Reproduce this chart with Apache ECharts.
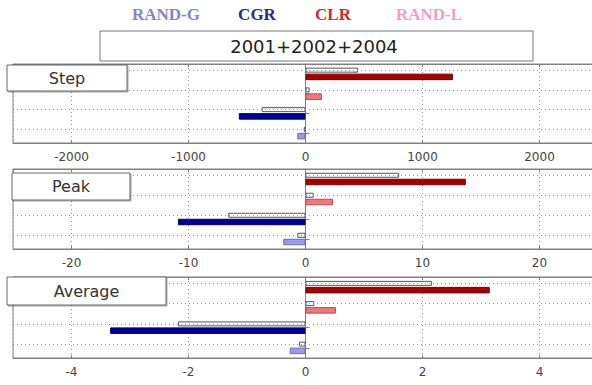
<!DOCTYPE html>
<html>
<head>
<meta charset="utf-8">
<script src="https://cdn.jsdelivr.net/npm/echarts@6/dist/echarts.min.js"></script>
<style>
  html, body { margin: 0; padding: 0; background: #fff; overflow: hidden; }
  /* a few pixels wider than the window: the right frame of the plots is cut off */
  #chart { width: 600px; height: 385px; }
</style>
</head>
<body>
<div id="chart"></div>
<script>
// rows top to bottom in every panel
const categories = ['CLR', 'RAND-L', 'CGR', 'RAND-G'];
const panelNames = ['Step', 'Peak', 'Average'];
const title = '2001+2002+2004';

// outlined (white) bars and coloured bars, in category order
const stepWhite = [450, 35, -375, -15];
const stepColor = [1260, 140, -570, -70];
const peakWhite = [8.0, 0.7, -6.6, -0.7];
const peakColor = [13.7, 2.35, -10.9, -1.9];
const avgWhite = [2.16, 0.15, -2.18, -0.11];
const avgColor = [3.15, 0.52, -3.34, -0.27];
const axisLimit = [2500, 25, 5];

const legendNames = ['RAND-G', 'CGR', 'CLR', 'RAND-L'];
const legendColors = { 'RAND-G': '#8585cc', 'CGR': '#2b2b88', 'CLR': '#d42a2a', 'RAND-L': '#f0a0c0' };
const barFill = { 'CLR': '#a80000', 'RAND-L': '#f07878', 'CGR': '#000099', 'RAND-G': '#9a9aee' };
const barEdge = { 'CLR': '#6e0000', 'RAND-L': '#c04848', 'CGR': '#00005e', 'RAND-G': '#6a6ac0' };

const whiteData = [stepWhite, peakWhite, avgWhite];
const colorData = [stepColor, peakColor, avgColor];

// panel frames (pixels)
const panelTop = [64, 169, 277];
const panelHeight = [79, 80, 81];
const labelBoxes = [
  { x: 7, y: 65, w: 120, h: 26 },
  { x: 12, y: 173, w: 118, h: 27 },
  { x: 7, y: 277, w: 159, h: 28 }
];

const chart = echarts.init(document.getElementById('chart'), null, { renderer: 'svg' });

const grid = [], xAxis = [], yAxis = [], series = [];
const frameColor = '#808080';

panelNames.forEach((name, i) => {
  grid.push({
    left: 13, right: 2, top: panelTop[i], height: panelHeight[i],
    outerBoundsMode: 'none',
    show: true, borderColor: frameColor, borderWidth: 1
  });
  // bottom axis with labels
  xAxis.push({
    type: 'value', gridIndex: i, min: -axisLimit[i], max: axisLimit[i], splitNumber: 5,
    position: 'bottom',
    axisLine: { show: true, lineStyle: { color: frameColor } },
    axisTick: { show: true, inside: true, length: 3, lineStyle: { color: frameColor } },
    axisLabel: {
      showMinLabel: false, showMaxLabel: false, margin: 8,
      color: '#444', fontSize: 12, fontFamily: 'DejaVu Sans',
      formatter: v => String(v)
    },
    splitLine: { show: true, lineStyle: { color: '#999', type: [1, 3], width: 1 } }
  });
  // top border ticks
  xAxis.push({
    type: 'value', gridIndex: i, min: -axisLimit[i], max: axisLimit[i], splitNumber: 5,
    position: 'top',
    axisLine: { show: true, lineStyle: { color: frameColor } },
    axisTick: { show: true, inside: true, length: 3, lineStyle: { color: frameColor } },
    axisLabel: { show: false },
    splitLine: { show: false }
  });
  yAxis.push({
    type: 'category', gridIndex: i, data: categories, inverse: true,
    axisLine: { show: true, lineStyle: { color: frameColor } },
    axisTick: { show: true, inside: true, alignWithLabel: true, length: 4, lineStyle: { color: frameColor } },
    axisLabel: { show: false },
    splitLine: { show: false }
  });

  series.push({
    type: 'bar', name: name + ' white', xAxisIndex: i * 2, yAxisIndex: i,
    barWidth: 5, barGap: '20%',
    itemStyle: { color: '#fff', borderColor: '#555', borderWidth: 1 },
    data: whiteData[i],
    markLine: {
      silent: true, symbol: 'none', label: { show: false },
      lineStyle: { color: '#999', type: [1, 3], width: 1 },
      data: categories.map(c => ({ yAxis: c }))
    },
    animation: false
  });
  series.push({
    type: 'bar', name: name, xAxisIndex: i * 2, yAxisIndex: i,
    barWidth: 6.5,
    data: colorData[i].map((v, k) => ({
      value: v,
      itemStyle: { color: barFill[categories[k]], borderColor: barEdge[categories[k]], borderWidth: 1 }
    })),
    animation: false
  });
});

const legendX = { 'RAND-G': 166, 'CGR': 257, 'CLR': 333, 'RAND-L': 429 };
const graphic = legendNames.map(n => ({
  type: 'text', x: legendX[n], y: 14,
  style: {
    text: n, fill: legendColors[n], font: 'bold 17px "Liberation Serif", serif',
    textAlign: 'center', textVerticalAlign: 'middle'
  }
}));

graphic.push({
  type: 'rect', shape: { x: 100, y: 31, width: 433, height: 30 },
  style: { fill: '#fff', stroke: '#777', lineWidth: 1 }, z: 10
});
graphic.push({
  type: 'text', x: 314, y: 46, z: 11,
  style: { text: title, fill: '#222', font: '18px "DejaVu Sans", sans-serif', textAlign: 'center', textVerticalAlign: 'middle' }
});

panelNames.forEach((name, i) => {
  const b = labelBoxes[i];
  graphic.push({
    type: 'rect', shape: { x: b.x, y: b.y, width: b.w, height: b.h }, z: 10,
    style: { fill: '#fff', stroke: '#666', lineWidth: 1, shadowColor: 'rgba(0,0,0,0.35)', shadowOffsetX: 1, shadowOffsetY: 1, shadowBlur: 1 }
  });
  graphic.push({
    type: 'text', x: b.x + b.w / 2, y: b.y + b.h / 2, z: 11,
    style: { text: name, fill: '#333', font: '16px "DejaVu Sans", sans-serif', textAlign: 'center', textVerticalAlign: 'middle' }
  });
});

chart.setOption({
  animation: false,
  grid, xAxis, yAxis, series, graphic
});
</script>
</body>
</html>
